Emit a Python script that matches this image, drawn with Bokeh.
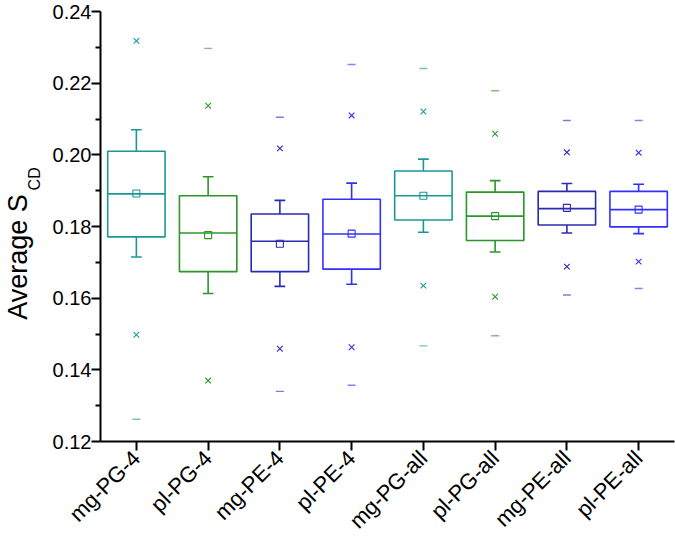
from math import pi
from bokeh.plotting import figure
from bokeh.models import (ColumnDataSource, FixedTicker, PrintfTickFormatter, Range1d,
                          LinearAxis)
from bokeh.embed import file_html
from bokeh.resources import INLINE

categories = ["mg-PG-4", "pl-PG-4", "mg-PE-4", "pl-PE-4",
              "mg-PG-all", "pl-PG-all", "mg-PE-all", "pl-PE-all"]
max_vals = [0.245, 0.2297, 0.2105, 0.2252, 0.2241, 0.2179, 0.2096, 0.2096]
p99_vals = [0.2318, 0.2137, 0.2018, 0.2110, 0.2121, 0.2059, 0.2007, 0.2006]
whisk_hi = [0.2070, 0.1939, 0.1873, 0.1921, 0.1988, 0.1928, 0.1920, 0.1918]
q3_vals = [0.2010, 0.1886, 0.1835, 0.1876, 0.1955, 0.1896, 0.1898, 0.1898]
median_vals = [0.1891, 0.1782, 0.1759, 0.1779, 0.1886, 0.1829, 0.1850, 0.1847]
mean_vals = [0.1892, 0.1776, 0.1752, 0.1780, 0.1886, 0.1829, 0.1852, 0.1847]
q1_vals = [0.1771, 0.1674, 0.1674, 0.1681, 0.1818, 0.1761, 0.1804, 0.1799]
whisk_lo = [0.1715, 0.1613, 0.1633, 0.1639, 0.1784, 0.1729, 0.1782, 0.1780]
p1_vals = [0.1498, 0.1370, 0.1459, 0.1463, 0.1635, 0.1604, 0.1688, 0.1702]
min_vals = [0.1262, 0.115, 0.1340, 0.1357, 0.1467, 0.1495, 0.1609, 0.1627]
colors = ["#1a9898", "#2a962a", "#2a2ab4", "#3030ff",
          "#1a9898", "#2a962a", "#2a2ab4", "#3030ff"]
y_ticks = [0.12, 0.14, 0.16, 0.18, 0.20, 0.22, 0.24]
y_minor = [0.13, 0.15, 0.17, 0.19, 0.21, 0.23]
y_title = "Average S"
y_title_sub = "CD"

pos = list(range(1, len(categories) + 1))
box_w = 0.8
cap_w = 0.15

src = ColumnDataSource(dict(
    x=pos, mx=max_vals, p99=p99_vals, wh=whisk_hi, q3=q3_vals, med=median_vals,
    mean=mean_vals, q1=q1_vals, wl=whisk_lo, p1=p1_vals, mn=min_vals, c=colors,
    xl=[v - box_w / 2 for v in pos], xr=[v + box_w / 2 for v in pos],
    cl=[v - cap_w / 2 for v in pos], cr=[v + cap_w / 2 for v in pos],
))

font = "Liberation Sans"

p = figure(width=675, height=545, output_backend="svg", toolbar_location=None,
           x_range=Range1d(0.5, 8.5), y_range=Range1d(0.12, 0.24),
           min_border_left=98, min_border_right=1, min_border_top=11,
           min_border_bottom=104)
p.outline_line_color = None
p.xgrid.visible = False
p.ygrid.visible = False
p.background_fill_color = "white"

lw = 1.6
p.segment(x0="x", y0="q3", x1="x", y1="wh", source=src, line_color="c", line_width=lw)
p.segment(x0="x", y0="q1", x1="x", y1="wl", source=src, line_color="c", line_width=lw)
p.segment(x0="cl", y0="wh", x1="cr", y1="wh", source=src, line_color="c", line_width=lw)
p.segment(x0="cl", y0="wl", x1="cr", y1="wl", source=src, line_color="c", line_width=lw)
p.quad(left="xl", right="xr", bottom="q1", top="q3", source=src,
       fill_color=None, line_color="c", line_width=lw)
p.segment(x0="xl", y0="med", x1="xr", y1="med", source=src, line_color="c", line_width=lw)
p.scatter(x="x", y="mean", source=src, marker="square", size=7,
          fill_color=None, line_color="c", line_width=1.1)
p.scatter(x="x", y="p99", source=src, marker="x", size=8, line_color="c", line_width=1.1)
p.scatter(x="x", y="p1", source=src, marker="x", size=8, line_color="c", line_width=1.1)
p.scatter(x="x", y="mx", source=src, marker="dash", size=8, line_color="c",
          line_width=1.4, line_alpha=0.6)
p.scatter(x="x", y="mn", source=src, marker="dash", size=8, line_color="c",
          line_width=1.4, line_alpha=0.6)

for ax in (p.xaxis[0], p.yaxis[0]):
    ax.axis_line_width = 2
    ax.axis_line_color = "black"
    ax.major_tick_line_width = 2
    ax.minor_tick_line_width = 2
    ax.major_tick_in = 0
    ax.major_tick_out = 9
    ax.minor_tick_in = 0
    ax.minor_tick_out = 5
    ax.major_label_text_font = font
    ax.major_label_text_color = "black"

p.yaxis.ticker = FixedTicker(ticks=y_ticks, minor_ticks=y_minor)
p.yaxis.formatter = PrintfTickFormatter(format="%.2f")
p.yaxis.major_label_standoff = 0
p.yaxis.major_label_text_font_size = "20px"

p.xaxis.ticker = FixedTicker(ticks=pos)
p.xaxis.major_label_overrides = {float(v): c for v, c in zip(pos, categories)}
p.xaxis.major_label_orientation = pi / 4
p.xaxis.minor_tick_line_color = None
p.xaxis.major_label_standoff = 4
p.xaxis.major_label_text_font_size = "22px"


def title_axis(text, at, size, standoff):
    """Extra tick-less left axis whose single tick label carries (part of) the y title."""
    ax = LinearAxis(ticker=FixedTicker(ticks=[at], minor_ticks=[]),
                    major_label_overrides={at: text},
                    major_label_orientation="vertical",
                    major_label_standoff=standoff,
                    major_label_text_font=font,
                    major_label_text_font_size=size,
                    major_label_text_color="black",
                    axis_line_color=None, major_tick_line_color=None,
                    minor_tick_line_color=None,
                    major_tick_in=0, major_tick_out=0, minor_tick_in=0, minor_tick_out=0)
    p.add_layout(ax, "left")
    return ax


# label positions along the y axis (centre of each text piece)
title_axis(y_title_sub, 0.1933, "16px", 6)
title_axis(y_title, 0.1715, "27px", -10)

open("out.html", "w").write(file_html(p, INLINE))
